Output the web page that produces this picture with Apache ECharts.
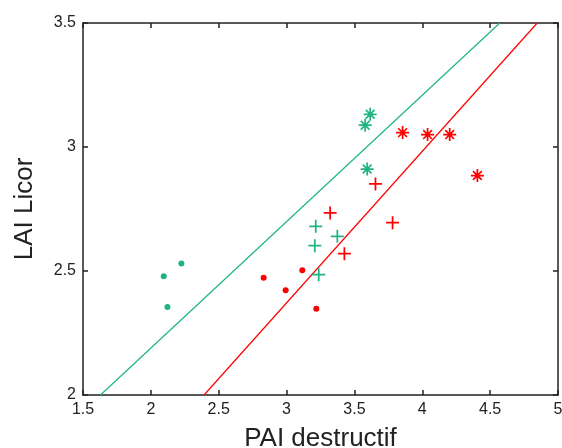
<!DOCTYPE html>
<html>
<head>
<meta charset="utf-8">
<script src="https://cdn.jsdelivr.net/npm/echarts@6/dist/echarts.min.js"></script>
<style>
html,body{margin:0;padding:0;background:#fff;}
#chart{width:562px;height:448px;}
</style>
</head>
<body>
<div id="chart"></div>
<script>
// Data [PAI destructif, LAI Licor]
var greenDots  = [[2.095, 2.479], [2.225, 2.530], [2.122, 2.355]];
var redDots    = [[2.831, 2.473], [2.993, 2.422], [3.116, 2.503], [3.219, 2.348]];
var greenPlus  = [[3.215, 2.680], [3.374, 2.640], [3.208, 2.602], [3.237, 2.485]];
var redPlus    = [[3.655, 2.851], [3.321, 2.734], [3.781, 2.695], [3.426, 2.570]];
var greenStars = [[3.616, 3.132], [3.579, 3.088], [3.594, 2.911]];
var redStars   = [[3.855, 3.058], [4.039, 3.050], [4.202, 3.050], [4.406, 2.885]];
var greenLine  = [[1.629, 2.0], [4.571, 3.5]];
var redLine    = [[2.392, 2.0], [4.847, 3.5]];
var xTicks = { min: 1.5, max: 5, interval: 0.5 };
var yTicks = { min: 2, max: 3.5, interval: 0.5 };
var xTitle = 'PAI destructif';
var yTitle = 'LAI Licor';

var GREEN = '#1fb386';
var RED = '#ff0000';
var FONT = '"Liberation Sans", Arial, sans-serif';

var plusPath = 'path://M5.2,0h1.6v12h-1.6zM0,5.2h12v1.6h-12z';
var starPath = 'path://M5.2,0h1.6v12h-1.6zM0,5.2h12v1.6h-12z' +
  'M1.4,2.5L2.5,1.4L10.6,9.5L9.5,10.6zM9.5,1.4L10.6,2.5L2.5,10.6L1.4,9.5z';

var chart = echarts.init(document.getElementById('chart'), null, {renderer: 'canvas'});

function scat(data, color, symbol, size) {
  return {
    type: 'scatter', data: data, symbol: symbol, symbolSize: size,
    itemStyle: { color: color, opacity: 1 }, silent: true, z: 3
  };
}
function line(data, color) {
  return {
    type: 'line', data: data, showSymbol: false, symbol: 'none',
    lineStyle: { color: color, width: 1.2 }, silent: true, z: 2
  };
}
var axisLineStyle = { color: '#222', width: 1.5 };

chart.setOption({
  animation: false,
  backgroundColor: '#fff',
  grid: { left: 83, top: 23, right: 4, bottom: 53, containLabel: false, outerBoundsMode: 'none' },
  xAxis: [{
    type: 'value', min: xTicks.min, max: xTicks.max, interval: xTicks.interval,
    position: 'bottom',
    name: xTitle, nameLocation: 'middle', nameGap: 31,
    nameTextStyle: { fontFamily: FONT, fontSize: 26, color: '#222' },
    axisLine: { show: true, onZero: false, lineStyle: axisLineStyle },
    axisTick: { show: true, inside: true, length: 5, lineStyle: axisLineStyle },
    axisLabel: { fontFamily: FONT, fontSize: 16, color: '#222', margin: 7 },
    splitLine: { show: false }
  }, {
    type: 'value', min: xTicks.min, max: xTicks.max, interval: xTicks.interval,
    position: 'top',
    axisLine: { show: true, onZero: false, lineStyle: axisLineStyle },
    axisTick: { show: true, inside: true, length: 5, lineStyle: axisLineStyle },
    axisLabel: { show: false }, splitLine: { show: false }
  }],
  yAxis: [{
    type: 'value', min: yTicks.min, max: yTicks.max, interval: yTicks.interval,
    position: 'left',
    name: yTitle, nameLocation: 'middle', nameGap: 45, nameRotate: 90,
    nameTextStyle: { fontFamily: FONT, fontSize: 26, color: '#222' },
    axisLine: { show: true, onZero: false, lineStyle: axisLineStyle },
    axisTick: { show: true, inside: true, length: 5, lineStyle: axisLineStyle },
    axisLabel: { fontFamily: FONT, fontSize: 16, color: '#222', margin: 7 },
    splitLine: { show: false }
  }, {
    type: 'value', min: yTicks.min, max: yTicks.max, interval: yTicks.interval,
    position: 'right',
    axisLine: { show: true, onZero: false, lineStyle: axisLineStyle },
    axisTick: { show: true, inside: true, length: 5, lineStyle: axisLineStyle },
    axisLabel: { show: false }, splitLine: { show: false }
  }],
  series: [
    line(greenLine, GREEN),
    line(redLine, RED),
    scat(greenDots, GREEN, 'circle', 6),
    scat(redDots, RED, 'circle', 6),
    scat(greenPlus, GREEN, plusPath, 13),
    scat(redPlus, RED, plusPath, 13),
    scat(greenStars, GREEN, starPath, 13),
    scat(redStars, RED, starPath, 13)
  ]
});
</script>
</body>
</html>
